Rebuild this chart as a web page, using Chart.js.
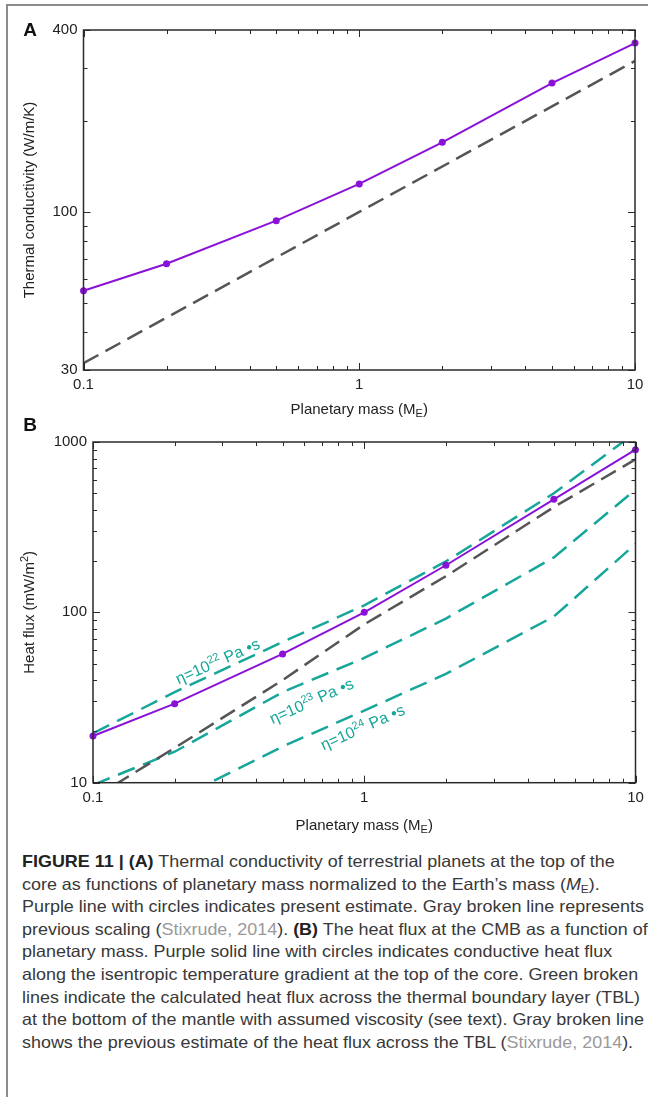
<!DOCTYPE html>
<html><head><meta charset="utf-8">
<script src="https://cdn.jsdelivr.net/npm/chart.js@4.4.0/dist/chart.umd.min.js"></script>
<style>
html,body{margin:0;padding:0;background:#fff;}
body{width:654px;height:1097px;position:relative;overflow:hidden;font-family:"Liberation Sans",Arial,sans-serif;}
#frameL{position:absolute;left:6px;top:4px;width:2px;height:1093px;background:#8c8c8c;}
#frameT{position:absolute;left:6px;top:4px;width:642px;height:2px;background:#8c8c8c;}
canvas{position:absolute;left:0;}
#ca{top:0;}
#cb{top:400px;}
#cap{position:absolute;left:22px;top:850px;font-size:16.5px;line-height:22.6px;color:#383838;white-space:nowrap;transform-origin:0 0;}
#cap .ln{height:22.6px;}
#cap b{font-weight:bold;color:#222;}
#cap .ref{color:#9a9a9a;}
#cap sub{font-size:11px;line-height:0;vertical-align:-3px;}
</style></head>
<body>
<div id="frameL"></div><div id="frameT"></div>
<canvas id="ca" width="654" height="420"></canvas>
<canvas id="cb" width="654" height="440"></canvas>
<div id="cap">
<div class="ln"><b>FIGURE 11 | (A)</b> Thermal conductivity of terrestrial planets at the top of the</div>
<div class="ln">core as functions of planetary mass normalized to the Earth’s mass (<i>M</i><sub>E</sub>).</div>
<div class="ln" id="lref">Purple line with circles indicates present estimate. Gray broken line represents</div>
<div class="ln">previous scaling (<span class="ref">Stixrude, 2014</span>). <b>(B)</b> The heat flux at the CMB as a function of</div>
<div class="ln">planetary mass. Purple solid line with circles indicates conductive heat flux</div>
<div class="ln">along the isentropic temperature gradient at the top of the core. Green broken</div>
<div class="ln">lines indicate the calculated heat flux across the thermal boundary layer (TBL)</div>
<div class="ln">at the bottom of the mantle with assumed viscosity (see text). Gray broken line</div>
<div class="ln">shows the previous estimate of the heat flux across the TBL (<span class="ref">Stixrude, 2014</span>).</div>
</div>
<script>
// ---------------- data ----------------
const massA = [0.1, 0.2, 0.5, 1, 2, 5, 10];
const kPresent = [54.9, 67.4, 93.6, 123.8, 170, 267, 362];
const massPrevA = [0.1, 1, 10];
const kPrevious = [31.6, 100, 316];

const massB = [0.1, 0.2, 0.5, 1, 2, 5, 10];
const qConductive = [18.8, 29.1, 57, 100, 189, 461, 901];
const qPrevious = [8.1, 16, 40, 85, 163, 415, 790];
const qEta22 = [19.5, 34, 67, 110, 199, 500, 1135];
const qEta23 = [9.7, 15.2, 34, 54, 92, 210, 525];
const qEta24 = [4.6, 7.9, 16.3, 26.5, 43.5, 94.5, 252];

const xMajor = [0.1, 1, 10];
const xMinor = [0.2, 0.3, 0.4, 0.5, 0.6, 0.7, 0.8, 0.9, 2, 3, 4, 5, 6, 7, 8, 9];
const yMajorA = [30, 100, 400];
const yMinorA = [40, 50, 60, 70, 80, 90, 200, 300];
const yMajorB = [10, 100, 1000];
const yMinorB = [20, 30, 40, 50, 60, 70, 80, 90, 200, 300, 400, 500, 600, 700, 800, 900];

// annotation labels: [exponent, mass, flux]
const etaLabels = [["22", 0.289, 51.1], ["23", 0.641, 29.8], ["24", 0.989, 20.9]];

// ---------------- styles ----------------
const PURPLE = '#8a12d8';
const GREEN = '#17a69a';
const GRAY = '#555555';
const FONT = '"Liberation Sans", Arial, sans-serif';

const pts = (xs, ys) => xs.map((x, i) => ({x: x, y: ys[i]}));

function drawRich(ctx, parts, cx, cy, angle, color) {
  ctx.save();
  ctx.translate(cx, cy);
  ctx.rotate(angle);
  ctx.fillStyle = color;
  ctx.textBaseline = 'middle';
  ctx.textAlign = 'left';
  let w = 0;
  parts.forEach(p => { ctx.font = (p.bold ? 'bold ' : '') + p.size + 'px ' + FONT; p.w = ctx.measureText(p.t).width; w += p.w; });
  let x = -w / 2;
  parts.forEach(p => { ctx.font = (p.bold ? 'bold ' : '') + p.size + 'px ' + FONT; ctx.fillText(p.t, x, p.dy || 0); x += p.w; });
  ctx.restore();
}

const massTitle = [{t: 'Planetary mass (M', size: 15}, {t: 'E', size: 11, dy: 4}, {t: ')', size: 15}];

function framePlugin(cfg) {
  return {
    id: 'frame_' + cfg.name,
    afterDraw(chart) {
      const {ctx, chartArea: a} = chart;
      const xs = chart.scales.x, ys = chart.scales.y;
      ctx.save();
      ctx.strokeStyle = '#2a2a2a';
      ctx.lineWidth = 1;
      ctx.beginPath();
      xs.ticks.forEach(t => {
        const p = Math.round(xs.getPixelForValue(t.value)) + 0.5;
        const L = xMajor.includes(t.value) ? 7 : 4;
        ctx.moveTo(p, a.bottom); ctx.lineTo(p, a.bottom - L);
        ctx.moveTo(p, a.top); ctx.lineTo(p, a.top + L);
      });
      ys.ticks.forEach(t => {
        const p = Math.round(ys.getPixelForValue(t.value)) + 0.5;
        const L = cfg.yMajor.includes(t.value) ? 7 : 4;
        ctx.moveTo(a.left, p); ctx.lineTo(a.left + L, p);
        ctx.moveTo(a.right, p); ctx.lineTo(a.right - L, p);
      });
      ctx.stroke();
      ctx.lineWidth = 1.5;
      ctx.strokeRect(a.left, a.top, a.right - a.left, a.bottom - a.top);
      ctx.restore();
      // panel letter
      drawRich(ctx, [{t: cfg.name, size: 19, bold: true}], 30, cfg.letterY, 0, '#111');
      // x title
      drawRich(ctx, massTitle, (a.left + a.right) / 2, cfg.xTitleY, 0, '#222');
      // y title
      drawRich(ctx, cfg.yTitle, 30, (a.top + a.bottom) / 2, -Math.PI / 2, '#222');
      if (cfg.eta) {
        ctx.save();
        ctx.beginPath();
        ctx.rect(a.left, a.top, a.right - a.left, a.bottom - a.top);
        ctx.clip();
        etaLabels.forEach(l => {
          const px = xs.getPixelForValue(l[1]), py = ys.getPixelForValue(l[2]);
          drawRich(ctx, [{t: 'η=10', size: 16}, {t: l[0], size: 11, dy: -5}, {t: ' Pa •s', size: 16}], px, py, -24 * Math.PI / 180, GREEN);
        });
        ctx.restore();
      }
    }
  };
}

function scalesFor(yMin, yMax, yMajor, yMinor, yWidth, xHeight) {
  const tickFont = {family: FONT, size: 15};
  return {
    x: {
      type: 'logarithmic', min: 0.1, max: 10,
      grid: {display: false, drawTicks: false}, border: {display: false},
      afterBuildTicks: s => { s.ticks = xMajor.concat(xMinor).sort((p, q) => p - q).map(v => ({value: v})); },
      afterFit: s => { s.height = xHeight; },
      ticks: {autoSkip: false, maxRotation: 0, padding: 6, color: '#222', font: tickFont,
        callback: v => xMajor.includes(v) ? String(v) : ''}
    },
    y: {
      type: 'logarithmic', min: yMin, max: yMax,
      grid: {display: false, drawTicks: false}, border: {display: false},
      afterBuildTicks: s => { s.ticks = yMajor.concat(yMinor).sort((p, q) => p - q).map(v => ({value: v})); },
      afterFit: s => { s.width = yWidth; },
      ticks: {autoSkip: false, padding: 6, color: '#222', font: tickFont,
        callback: v => yMajor.includes(v) ? String(v) : ''}
    }
  };
}

const common = {
  responsive: false, animation: false, events: [],
  plugins: {legend: {display: false}, tooltip: {enabled: false}}
};

new Chart(document.getElementById('ca'), {
  type: 'line',
  data: {datasets: [
    {data: pts(massA, kPresent), borderColor: PURPLE, backgroundColor: PURPLE, borderWidth: 2, pointRadius: 3.5, pointBorderWidth: 0, clip: false},
    {data: pts(massPrevA, kPrevious), borderColor: GRAY, borderWidth: 2.5, borderDash: [17, 8], pointRadius: 0, clip: 0}
  ]},
  options: Object.assign({}, common, {
    layout: {padding: {left: 0, top: 30, right: 19, bottom: 0}},
    scales: scalesFor(30, 400, yMajorA, yMinorA, 83.5, 50)
  }),
  plugins: [framePlugin({name: 'A', yMajor: yMajorA, letterY: 31, xTitleY: 410,
    yTitle: [{t: 'Thermal conductivity (W/m/K)', size: 15}]})]
});

new Chart(document.getElementById('cb'), {
  type: 'line',
  data: {datasets: [
    {data: pts(massB, qConductive), borderColor: PURPLE, backgroundColor: PURPLE, borderWidth: 2, pointRadius: 3.5, pointBorderWidth: 0, clip: false},
    {data: pts(massB, qPrevious), borderColor: GRAY, borderWidth: 2.5, borderDash: [17, 8], pointRadius: 0, clip: 0},
    {data: pts(massB, qEta22), borderColor: GREEN, borderWidth: 2.5, borderDash: [18, 9], pointRadius: 0, clip: 0},
    {data: pts(massB, qEta23), borderColor: GREEN, borderWidth: 2.5, borderDash: [18, 9], pointRadius: 0, clip: 0},
    {data: pts(massB, qEta24), borderColor: GREEN, borderWidth: 2.5, borderDash: [18, 9], pointRadius: 0, clip: 0}
  ]},
  options: Object.assign({}, common, {
    layout: {padding: {left: 0, top: 42, right: 18.5, bottom: 0}},
    scales: scalesFor(10, 1000, yMajorB, yMinorB, 93, 57.3)
  }),
  plugins: [framePlugin({name: 'B', yMajor: yMajorB, letterY: 26, xTitleY: 426, eta: true,
    yTitle: [{t: 'Heat flux (mW/m', size: 15}, {t: '2', size: 11, dy: -5}, {t: ')', size: 15}]})]
});

// caption: compress horizontally like a condensed face
(function () {
  const cap = document.getElementById('cap');
  const ref = document.getElementById('lref');
  const range = document.createRange();
  range.selectNodeContents(ref);
  const tw = range.getBoundingClientRect().width;
  cap.style.transform = 'scaleX(' + (622 / tw) + ')';
})();
</script>
</body></html>
